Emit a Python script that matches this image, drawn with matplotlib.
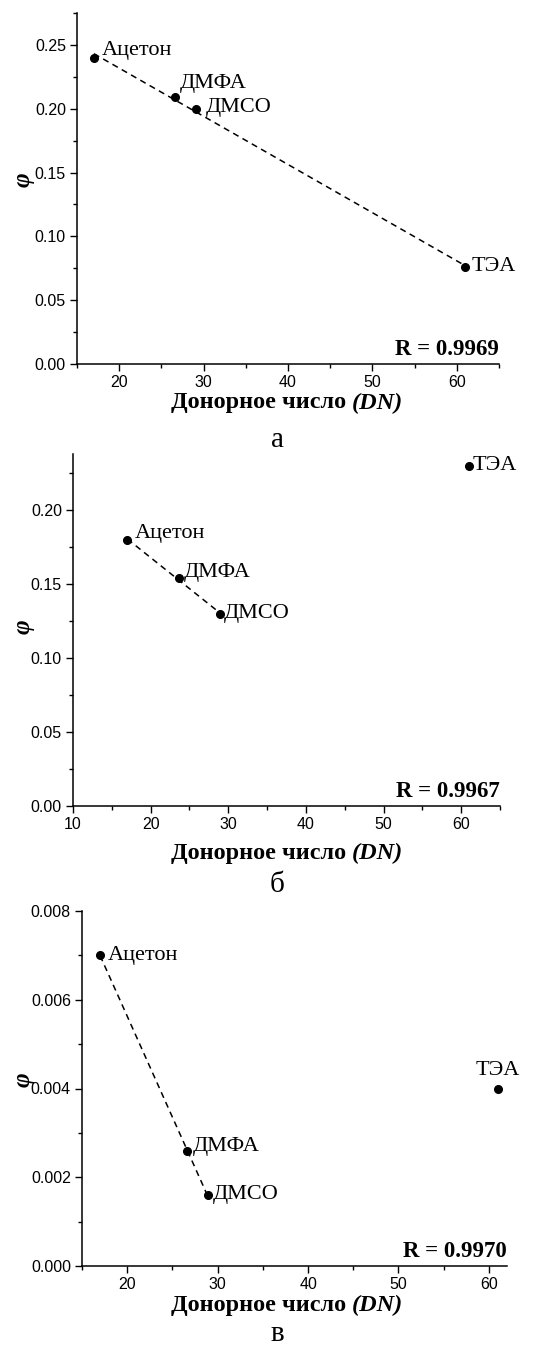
import numpy as np
import matplotlib.pyplot as plt
from matplotlib.ticker import MultipleLocator, FormatStrFormatter

# data
solvents = ['Ацетон', 'ДМФА', 'ДМСО', 'ТЭА']

dn_a = [17.0, 26.6, 29.1, 61.0]
phi_a = [0.240, 0.209, 0.1995, 0.076]

dn_b = [17.0, 23.6, 28.9, 61.0]
phi_b = [0.180, 0.154, 0.130, 0.230]

dn_c = [17.0, 26.6, 28.9, 61.0]
phi_c = [0.0070, 0.0026, 0.0016, 0.0040]

r_values = ['R = 0.9969', 'R = 0.9967', 'R = 0.9970']
panel_letters = ['а', 'б', 'в']
fit_count = [4, 3, 3]   # points used for the dashed fit

W, H = 541, 1347
fig = plt.figure(figsize=(W / 100, H / 100), dpi=100)

serif = 'Liberation Serif'
sans = 'Liberation Sans'

# pixel boxes of the axes: left, right, top, bottom
boxes = [(77, 499, 13, 364), (73, 500, 454, 806), (82, 507, 911, 1266)]
xlims = [(15, 65), (10, 65), (15, 62)]
ylims = [(0, 0.275), (0, 0.238), (0, 0.008)]
ymaj = [0.05, 0.05, 0.002]
yfmt = ['%.2f', '%.2f', '%.3f']
xlabel_y = [403, 853, 1305]
letter_base = [447, 892, 1341]
phi_y = [180, 627, 1080]

# label offsets in pixels (dx, dy, ha)
offsets = [
    [(8, 7, 'left'), (5, 14, 'left'), (10, 2, 'left'), (6, 0, 'left')],
    [(7, 6, 'left'), (5, 6, 'left'), (4, 0, 'left'), (4, 0, 'left')],
    [(8, 0, 'left'), (6, 4, 'left'), (5, 0, 'left'), (0, 18, 'center')],
]

all_dn = [dn_a, dn_b, dn_c]
all_phi = [phi_a, phi_b, phi_c]


def fx(px):
    return px / W


def fy(py):
    return 1 - py / H


renderer = fig.canvas.get_renderer()

for i in range(3):
    l, r, t, b = boxes[i]
    ax = fig.add_axes([fx(l), fy(b), (r - l) / W, (b - t) / H])
    x = np.array(all_dn[i])
    y = np.array(all_phi[i])
    n = fit_count[i]

    k, c0 = np.polyfit(x[:n], y[:n], 1)
    xs = np.array([x[:n].min(), x[:n].max()])
    ax.plot(xs, k * xs + c0, color='black', lw=1.1, dashes=(4, 3))
    ax.plot(x, y, 'o', color='black', ms=5.5, clip_on=False, zorder=3)

    for j, name in enumerate(solvents):
        dx, dy, ha = offsets[i][j]
        ax.annotate(name, (x[j], y[j]), xytext=(dx, dy), textcoords='offset pixels',
                    ha=ha, va='center', fontsize=16, family=serif, annotation_clip=False)

    ax.text(1.0, 0.012, r_values[i], transform=ax.transAxes, ha='right', va='bottom',
            fontsize=16.5, family=serif, weight='bold')

    ax.set_xlim(*xlims[i])
    ax.set_ylim(*ylims[i])
    ax.xaxis.set_major_locator(MultipleLocator(10))
    ax.xaxis.set_minor_locator(MultipleLocator(5))
    ax.yaxis.set_major_locator(MultipleLocator(ymaj[i]))
    ax.yaxis.set_minor_locator(MultipleLocator(ymaj[i] / 2))
    ax.yaxis.set_major_formatter(FormatStrFormatter(yfmt[i]))
    ax.spines['top'].set_visible(False)
    ax.spines['right'].set_visible(False)
    for s in ['left', 'bottom']:
        ax.spines[s].set_linewidth(1.1)
    ax.tick_params(which='major', length=5, width=1, direction='out', labelsize=11.5, pad=3)
    ax.tick_params(which='minor', length=3, width=1, direction='out')
    for lab in ax.get_xticklabels() + ax.get_yticklabels():
        lab.set_family(sans)

    # x label: bold part + bold italic part, centred as one piece
    t1 = fig.text(0, fy(xlabel_y[i]), 'Донорное число', fontsize=17.5, family=serif,
                  weight='bold', va='center', ha='left')
    t2 = fig.text(0, fy(xlabel_y[i]), '(DN)', fontsize=17.5, family=serif,
                  weight='bold', style='italic', va='center', ha='left')
    w1 = t1.get_window_extent(renderer).width
    w2 = t2.get_window_extent(renderer).width
    gap = 5
    x0 = 287 - (w1 + gap + w2) / 2
    t1.set_x(fx(x0))
    t2.set_x(fx(x0 + w1 + gap))

    fig.text(fx(23), fy(phi_y[i]), 'φ', fontsize=18, family=serif, weight='bold',
             style='italic', rotation=90, ha='center', va='center')
    fig.text(fx(277), fy(letter_base[i]), panel_letters[i], fontsize=21, family=serif,
             ha='center', va='baseline')

fig.savefig('out.png', dpi=100)
